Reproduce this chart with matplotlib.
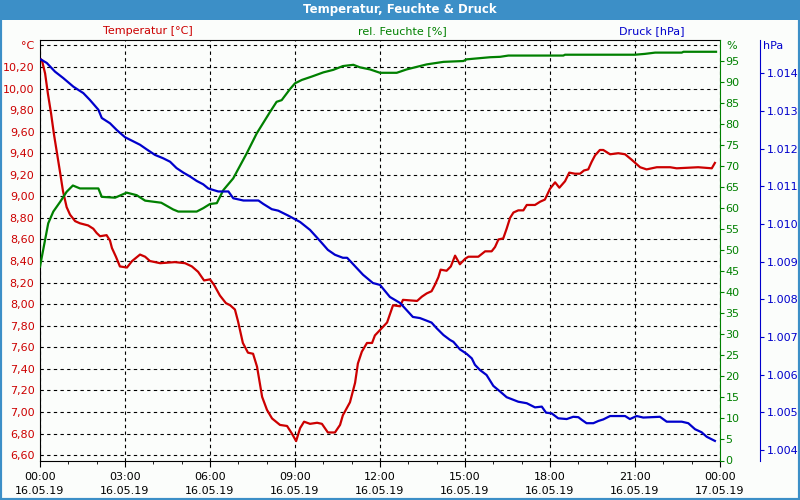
import matplotlib
matplotlib.use('Agg')
from matplotlib import pyplot as plt
from matplotlib.patches import Rectangle

# Stunden seit 16.05.19 00:00
t_temp = [0.00, 0.07, 0.18, 0.28, 0.39, 0.49, 0.60, 0.71, 0.81, 0.94, 1.06, 1.24, 1.41, 1.70,
          1.88, 2.00, 2.12, 2.35, 2.47, 2.54, 2.68, 2.82, 3.07, 3.25, 3.53, 3.71, 3.88, 4.24, 4.76,
          5.12, 5.36, 5.58, 5.79, 6.00, 6.14, 6.35, 6.56, 6.71, 6.88, 6.99, 7.16, 7.34, 7.52, 7.66,
          7.84, 8.01, 8.19, 8.47, 8.72, 8.89, 9.04, 9.18, 9.32, 9.53, 9.78, 9.95, 10.16, 10.41,
          10.59, 10.69, 10.94, 11.12, 11.22, 11.36, 11.54, 11.72, 11.82, 12.00, 12.25, 12.46, 12.71,
          12.81, 13.31, 13.48, 13.65, 13.82, 13.94, 14.06, 14.14, 14.35, 14.50, 14.65, 14.82, 15.00,
          15.12, 15.47, 15.71, 15.94, 16.06, 16.18, 16.35, 16.47, 16.59, 16.71, 16.88, 17.06, 17.18,
          17.47, 17.65, 17.82, 18.00, 18.18, 18.33, 18.53, 18.68, 18.88, 19.06, 19.20, 19.35, 19.47,
          19.59, 19.76, 19.88, 20.12, 20.41, 20.65, 20.88, 21.18, 21.41, 21.77, 22.24, 22.47, 23.23,
          23.71, 23.82]
temperatur = [10.28, 10.26, 10.14, 9.95, 9.77, 9.58, 9.40, 9.22, 9.05, 8.90, 8.83, 8.77, 8.75,
              8.73, 8.70, 8.66, 8.63, 8.64, 8.59, 8.52, 8.44, 8.35, 8.34, 8.40, 8.46, 8.44, 8.40,
              8.38, 8.39, 8.38, 8.35, 8.30, 8.22, 8.23, 8.18, 8.08, 8.01, 7.99, 7.95, 7.84, 7.64,
              7.55, 7.54, 7.42, 7.14, 7.02, 6.94, 6.88, 6.87, 6.80, 6.73, 6.85, 6.91, 6.89, 6.90,
              6.89, 6.81, 6.81, 6.88, 6.97, 7.09, 7.27, 7.45, 7.56, 7.64, 7.64, 7.71, 7.76, 7.83,
              7.99, 7.98, 8.04, 8.03, 8.07, 8.10, 8.12, 8.18, 8.25, 8.32, 8.31, 8.35, 8.45, 8.37,
              8.42, 8.44, 8.44, 8.49, 8.49, 8.53, 8.60, 8.61, 8.70, 8.80, 8.85, 8.87, 8.87, 8.92,
              8.92, 8.95, 8.97, 9.07, 9.13, 9.08, 9.14, 9.22, 9.21, 9.21, 9.24, 9.25, 9.32, 9.38,
              9.43, 9.43, 9.39, 9.40, 9.39, 9.34, 9.27, 9.25, 9.27, 9.27, 9.26, 9.27, 9.26, 9.31]

t_feuchte = [0.00, 0.29, 0.47, 0.71, 0.94, 1.16, 1.41, 2.06, 2.18, 2.65, 3.06, 3.41, 3.71, 4.28,
             4.70, 4.88, 5.53, 5.76, 6.00, 6.24, 6.47, 6.82, 7.30, 7.65, 8.12, 8.35, 8.53, 8.82,
             9.00, 9.24, 9.59, 10.00, 10.35, 10.69, 11.06, 11.29, 11.65, 12.00, 12.59, 12.94, 13.29,
             13.65, 14.24, 14.94, 15.06, 15.88, 16.24, 16.53, 18.47, 18.53, 21.00, 21.35, 21.71,
             22.65, 22.71, 23.86]
feuchte = [46.1, 56.4, 59.2, 61.5, 63.9, 65.4, 64.7, 64.7, 62.7, 62.5, 63.7, 63.1, 61.8, 61.3,
           59.7, 59.2, 59.2, 60.0, 61.0, 61.2, 64.3, 67.1, 73.1, 77.8, 82.9, 85.3, 85.7, 88.3,
           89.7, 90.5, 91.3, 92.3, 92.9, 93.8, 94.1, 93.5, 93.0, 92.2, 92.2, 93.0, 93.6,
           94.2, 94.8, 95.0, 95.4, 95.9, 96.0, 96.3, 96.3, 96.5, 96.5, 96.7, 97.0,
           97.0, 97.2, 97.2]

t_druck = [0.00, 0.06, 0.24, 0.53, 0.82, 1.18, 1.53, 1.76, 2.06, 2.18, 2.47, 2.71, 3.00, 3.24,
           3.53, 3.76, 4.06, 4.35, 4.59, 4.82, 5.06, 5.29, 5.53, 5.76, 5.94, 6.29, 6.65, 6.82,
           7.18, 7.71, 7.88, 8.18, 8.41, 8.76, 9.18, 9.53, 9.88, 10.16, 10.41, 10.69, 10.84, 11.40,
           11.75, 12.00, 12.35, 12.71, 13.16, 13.41, 13.65, 13.82, 14.00, 14.24, 14.47, 14.59,
           14.82, 15.06, 15.24, 15.35, 15.53, 15.76, 16.00, 16.24, 16.47, 16.71, 16.88, 17.18,
           17.47, 17.71, 17.86, 18.06, 18.29, 18.59, 18.82, 19.00, 19.12, 19.29, 19.53, 19.71,
           19.88, 20.12, 20.65, 20.82, 21.06, 21.29, 21.88, 22.12, 22.65, 22.88, 23.12, 23.35,
           23.53, 23.82]
druck = [1014.37, 1014.35, 1014.27, 1014.04, 1013.87, 1013.64, 1013.47, 1013.29, 1013.03, 1012.81,
         1012.67, 1012.49, 1012.30, 1012.21, 1012.10, 1011.98, 1011.83, 1011.74, 1011.65, 1011.48,
         1011.36, 1011.26, 1011.14, 1011.05, 1010.94, 1010.86, 1010.86, 1010.68, 1010.62, 1010.62,
         1010.53, 1010.39, 1010.35, 1010.22, 1010.05, 1009.84, 1009.55, 1009.31, 1009.18, 1009.10,
         1009.10, 1008.65, 1008.43, 1008.38, 1008.06, 1007.90, 1007.53, 1007.50, 1007.43, 1007.38,
         1007.23, 1007.05, 1006.92, 1006.87, 1006.67, 1006.55, 1006.43, 1006.26, 1006.12, 1005.99,
         1005.70, 1005.55, 1005.40, 1005.33, 1005.28, 1005.24, 1005.13, 1005.15, 1004.99, 1004.97,
         1004.84, 1004.82, 1004.88, 1004.87, 1004.80, 1004.71, 1004.71, 1004.77, 1004.81, 1004.90,
         1004.90, 1004.82, 1004.90, 1004.86, 1004.88, 1004.75, 1004.75, 1004.71, 1004.55, 1004.47,
         1004.35, 1004.24]

x_ticks = [0, 3, 6, 9, 12, 15, 18, 21, 24]
x_labels = ['00:00\n16.05.19', '03:00\n16.05.19', '06:00\n16.05.19', '09:00\n16.05.19',
            '12:00\n16.05.19', '15:00\n16.05.19', '18:00\n16.05.19', '21:00\n16.05.19',
            '00:00\n17.05.19']
temp_ticks = [6.6 + 0.2 * i for i in range(20)]
feuchte_ticks = list(range(0, 100, 5))
druck_ticks = list(range(1004, 1015))

RED = '#cc0000'
GREEN = '#008000'
BLUE = '#0000cc'
BG = '#fbfdfb'
FRAME = '#3c8fc7'

plt.rcParams['font.family'] = 'DejaVu Sans'
plt.rcParams['font.size'] = 8

fig = plt.figure(figsize=(8, 5), dpi=100, facecolor=BG)

# Titelleiste und Rahmen
fig.patches.append(Rectangle((0, 1 - 20 / 500), 1, 20 / 500, transform=fig.transFigure,
                             facecolor=FRAME, edgecolor='none', zorder=0))
fig.patches.append(Rectangle((0, 0), 1, 1, transform=fig.transFigure, facecolor='none',
                             edgecolor=FRAME, linewidth=3, zorder=0))
fig.text(0.5, 1 - 10 / 500, 'Temperatur, Feuchte & Druck', color='white', fontsize=8.5,
         fontweight='bold', ha='center', va='center')

fig.text(148 / 800, 1 - 31 / 500, 'Temperatur [°C]', color=RED, ha='center', va='center')
fig.text(402 / 800, 1 - 31 / 500, 'rel. Feuchte [%]', color=GREEN, ha='center', va='center')
fig.text(652 / 800, 1 - 31 / 500, 'Druck [hPa]', color=BLUE, ha='center', va='center')

ax = fig.add_axes([40 / 800, 1 - 460.5 / 500, 680 / 800, 420.5 / 500])
ax.set_facecolor(BG)
ax2 = ax.twinx()
ax3 = ax.twinx()

ax.plot(t_temp, temperatur, color=RED, linewidth=1.6)
ax2.plot(t_feuchte, feuchte, color=GREEN, linewidth=1.6)
ax3.plot(t_druck, druck, color=BLUE, linewidth=1.6)

ax.set_xlim(0, 24)
ax.set_ylim(6.55, 10.45)
ax2.set_ylim(0, 100)
ax3.set_ylim(1003.72, 1014.88)

# x-Achse
ax.set_xticks(x_ticks)
ax.set_xticklabels(x_labels)
ax.set_xticks(range(25), minor=True)
ax.tick_params(axis='x', which='major', length=4, pad=4, colors='black')
ax.tick_params(axis='x', which='minor', length=2)
for lbl in ax.get_xticklabels():
    lbl.set_linespacing(1.5)

# Temperatur-Achse
ax.set_yticks(temp_ticks)
ax.set_yticklabels([f'{v:.2f}'.replace('.', ',') for v in temp_ticks[:-1]] + ['°C'])
ax.tick_params(axis='y', length=0, pad=4, labelcolor=RED)
ax.grid(True, which='major', color='black', linestyle=(0, (3, 3)), linewidth=0.8)

# Feuchte-Achse
ax2.set_yticks(feuchte_ticks)
ax2.tick_params(axis='y', length=3, pad=1, color=GREEN, labelcolor=GREEN)
fig.text(726 / 800, 1 - 46 / 500, '%', color=GREEN, ha='left', va='center')

# Druck-Achse
ax3.spines['right'].set_position(('axes', (760 - 40) / 680))
ax3.set_yticks(druck_ticks)
ax3.set_yticklabels([f'{v / 1000:.3f}' for v in druck_ticks])
ax3.tick_params(axis='y', length=3, pad=2, color=BLUE, labelcolor=BLUE)
fig.text(763 / 800, 1 - 46 / 500, 'hPa', color=BLUE, ha='left', va='center')

for s in ['left', 'top', 'bottom']:
    ax.spines[s].set_color('black')
ax.spines['right'].set_visible(False)
for a in (ax2, ax3):
    for s in ['left', 'top', 'bottom']:
        a.spines[s].set_visible(False)
ax2.spines['right'].set_color(GREEN)
ax3.spines['right'].set_color(BLUE)

fig.savefig('out.png', dpi=100, facecolor=BG)
